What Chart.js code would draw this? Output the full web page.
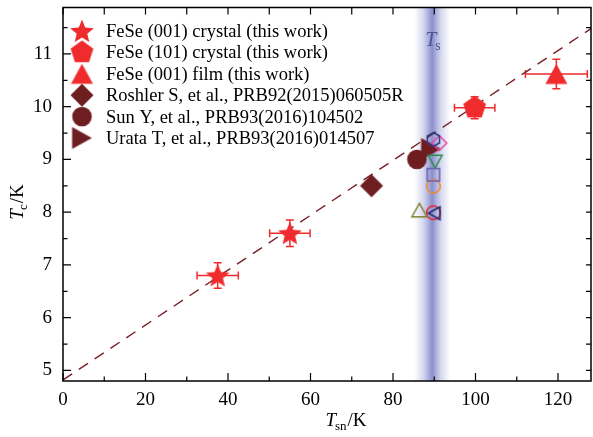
<!DOCTYPE html>
<html>
<head>
<meta charset="utf-8">
<script src="https://cdn.jsdelivr.net/npm/chart.js@4.4.0/dist/chart.umd.min.js"></script>
<style>
  html, body { margin: 0; padding: 0; background: #fff; }
</style>
</head>
<body>
<canvas id="tc-chart" width="593" height="437"></canvas>
<script>
// Dữ liệu: Tc theo Tsn
const starX = [37.5, 55.0], starY = [6.80, 7.60], starXErr = [5.0, 4.9], starYErr = [0.24, 0.25];
const pentX = [99.8], pentY = [9.98], pentXErr = [4.9], pentYErr = [0.21];
const filmX = [119.6], filmY = [10.62], filmXErr = [7.5], filmYErr = [0.28];
const roshlerX = [74.8], roshlerY = [8.50];
const sunX = [85.8], sunY = [9.00];
const urataX = [89.2], urataY = [9.20];

// các điểm rỗng quanh Ts
const openX = [89.8, 91.2, 90.2, 89.8, 89.8, 86.4, 90.0, 89.8];
const openY = [9.38, 9.31, 8.96, 8.71, 8.49, 8.04, 7.98, 7.99];
const openShape = ['hexagon', 'diamond', 'triangleDown', 'square', 'circle', 'triangleUp', 'triangleLeft', 'circle'];
const openColor = ['#2b3a8f', '#e8469e', '#2f8a4e', '#6a5fb4', '#f08a30', '#7c7c2c', '#1f2a70', '#e8242a'];
const openSize = [7, 7.5, 7, 6.2, 6.8, 7.5, 6.5, 6.8];

// đường fit nét đứt
const fitX = [0, 128], fitY = [4.82, 11.48];

const tsCenter = 89.5, tsHalf = 4.4;
const xTicks = [0, 20, 40, 60, 80, 100, 120];
const yTicks = [5, 6, 7, 8, 9, 10, 11];
const legendLabels = [
  'FeSe (001) crystal (this work)',
  'FeSe (101) crystal (this work)',
  'FeSe (001) film (this work)',
  'Roshler S, et al., PRB92(2015)060505R',
  'Sun Y, et al., PRB93(2016)104502',
  'Urata T, et al., PRB93(2016)014507'
];

const RED = '#ef2b2d', DARK = '#6e1d21', SERIF = '"Liberation Serif", "DejaVu Serif", serif';

// Vẽ marker lên canvas nhỏ
function marker(shape, r, fill, stroke, lw) {
  lw = lw || 1.5;
  const s = Math.ceil(2 * r + 2 * lw + 4);
  const c = document.createElement('canvas');
  c.width = s; c.height = s;
  const g = c.getContext('2d');
  g.translate(s / 2, s / 2);
  g.beginPath();
  const poly = (n, rot, rr) => {
    for (let i = 0; i < n; i++) {
      const a = rot + i * 2 * Math.PI / n;
      const px = rr * Math.cos(a), py = rr * Math.sin(a);
      i ? g.lineTo(px, py) : g.moveTo(px, py);
    }
    g.closePath();
  };
  const h = r * 0.9;
  switch (shape) {
    case 'star':
      for (let i = 0; i < 10; i++) {
        const a = -Math.PI / 2 + i * Math.PI / 5;
        const rr = i % 2 ? r * 0.44 : r;
        const px = rr * Math.cos(a), py = rr * Math.sin(a) + r * 0.08;
        i ? g.lineTo(px, py) : g.moveTo(px, py);
      }
      g.closePath();
      break;
    case 'pentagon': poly(5, -Math.PI / 2, r); break;
    case 'hexagon': poly(6, -Math.PI / 2, r); break;
    case 'diamond': poly(4, -Math.PI / 2, r); break;
    case 'square': g.rect(-r, -r, 2 * r, 2 * r); break;
    case 'circle': g.arc(0, 0, r, 0, 2 * Math.PI); break;
    case 'triangleUp': g.moveTo(0, -h); g.lineTo(-r, h); g.lineTo(r, h); g.closePath(); break;
    case 'triangleDown': g.moveTo(0, h); g.lineTo(-r, -h); g.lineTo(r, -h); g.closePath(); break;
    case 'triangleLeft': g.moveTo(-h, 0); g.lineTo(h, -r); g.lineTo(h, r); g.closePath(); break;
    case 'triangleRight': g.moveTo(h, 0); g.lineTo(-h, -r); g.lineTo(-h, r); g.closePath(); break;
  }
  if (fill) { g.fillStyle = fill; g.fill(); }
  if (stroke) { g.strokeStyle = stroke; g.lineWidth = lw; g.lineJoin = 'miter'; g.stroke(); }
  return c;
}

const mkStar = marker('star', 12.5, RED);
const mkPent = marker('pentagon', 12, RED);
const mkFilm = marker('triangleUp', 11, RED);
const mkRosh = marker('diamond', 11.5, DARK);
const mkSun = marker('circle', 9.8, DARK);
const mkUrata = marker('triangleRight', 11, DARK);
const legendMarkers = [mkStar, mkPent, mkFilm, mkRosh, mkSun, mkUrata];

const pts = (xs, ys) => xs.map((x, i) => ({ x: x, y: ys[i] }));

const datasets = [
  {
    type: 'line', data: pts(fitX, fitY), borderColor: '#7a1f27', borderWidth: 1.4,
    borderDash: [11, 8], pointRadius: 0, fill: false, order: 10
  },
  { data: pts(starX, starY), pointStyle: mkStar, order: 5 },
  { data: pts(pentX, pentY), pointStyle: mkPent, order: 5 },
  { data: pts(filmX, filmY), pointStyle: mkFilm, order: 5 },
  { data: pts(roshlerX, roshlerY), pointStyle: mkRosh, order: 5 },
  { data: pts(sunX, sunY), pointStyle: mkSun, order: 5 },
  { data: pts(urataX, urataY), pointStyle: mkUrata, order: 4 }
];
openX.forEach((x, i) => {
  datasets.push({
    data: [{ x: x, y: openY[i] }],
    pointStyle: marker(openShape[i], openSize[i], null, openColor[i], 1.5),
    order: 1
  });
});

// Plugin vẽ dải Ts, error bar, khung, tick, legend, nhãn trục
const decor = {
  id: 'decor',
  beforeDatasetsDraw(chart) {
    const { ctx, chartArea: a, scales: { x, y } } = chart;
    ctx.save();
    const x0 = x.getPixelForValue(tsCenter - tsHalf), x1 = x.getPixelForValue(tsCenter + tsHalf);
    const gr = ctx.createLinearGradient(x0, 0, x1, 0);
    gr.addColorStop(0, 'rgba(95,105,190,0)');
    gr.addColorStop(0.25, 'rgba(95,105,190,0.25)');
    gr.addColorStop(0.5, 'rgba(80,90,180,0.68)');
    gr.addColorStop(0.75, 'rgba(95,105,190,0.25)');
    gr.addColorStop(1, 'rgba(95,105,190,0)');
    ctx.fillStyle = gr;
    ctx.fillRect(x0, a.top, x1 - x0, a.bottom - a.top);

    // T_s
    const cx = x.getPixelForValue(tsCenter);
    ctx.fillStyle = '#4d5598';
    ctx.font = 'italic 20px ' + SERIF;
    ctx.textBaseline = 'alphabetic';
    ctx.textAlign = 'left';
    const tw = ctx.measureText('T').width;
    ctx.fillText('T', cx - 7, 46);
    ctx.font = '14px ' + SERIF;
    ctx.fillText('s', cx - 7 + tw - 1, 50);

    // error bars
    ctx.strokeStyle = RED;
    ctx.lineWidth = 1.5;
    const groups = [[starX, starY, starXErr, starYErr], [pentX, pentY, pentXErr, pentYErr], [filmX, filmY, filmXErr, filmYErr]];
    groups.forEach(([xs, ys, xe, ye]) => {
      xs.forEach((v, i) => {
        const px = x.getPixelForValue(v), py = y.getPixelForValue(ys[i]);
        const l = x.getPixelForValue(v - xe[i]), r = x.getPixelForValue(v + xe[i]);
        const t = y.getPixelForValue(ys[i] + ye[i]), b = y.getPixelForValue(ys[i] - ye[i]);
        ctx.beginPath();
        ctx.moveTo(l, py); ctx.lineTo(r, py);
        ctx.moveTo(px, t); ctx.lineTo(px, b);
        ctx.moveTo(l, py - 4); ctx.lineTo(l, py + 4);
        ctx.moveTo(r, py - 4); ctx.lineTo(r, py + 4);
        ctx.moveTo(px - 4, t); ctx.lineTo(px + 4, t);
        ctx.moveTo(px - 4, b); ctx.lineTo(px + 4, b);
        ctx.stroke();
      });
    });
    ctx.restore();
  },
  afterDraw(chart) {
    const { ctx, chartArea: a, scales: { x, y } } = chart;
    ctx.save();
    ctx.strokeStyle = '#000';
    ctx.lineWidth = 1.5;
    ctx.strokeRect(a.left, a.top, a.right - a.left, a.bottom - a.top);
    ctx.lineWidth = 1.2;
    ctx.beginPath();
    for (let v = 0; v <= 128; v += 10) {
      const px = x.getPixelForValue(v);
      const len = v % 20 === 0 ? 8 : 4.5;
      ctx.moveTo(px, a.bottom); ctx.lineTo(px, a.bottom - len);
      ctx.moveTo(px, a.top); ctx.lineTo(px, a.top + 7);
    }
    for (let v = 5; v <= 11.5; v += 0.5) {
      const py = y.getPixelForValue(v);
      const len = v % 1 === 0 ? 8 : 4.5;
      ctx.moveTo(a.left, py); ctx.lineTo(a.left + len, py);
      ctx.moveTo(a.right, py); ctx.lineTo(a.right - 5, py);
    }
    ctx.stroke();

    // legend
    ctx.fillStyle = '#000';
    ctx.font = '18.5px ' + SERIF;
    ctx.textAlign = 'left';
    ctx.textBaseline = 'alphabetic';
    legendLabels.forEach((lab, i) => {
      const ry = 31 + i * 21.4;
      const m = legendMarkers[i];
      ctx.drawImage(m, 82 - m.width / 2, ry - m.height / 2);
      ctx.fillText(lab, 106, ry + 6);
    });

    // nhãn trục
    const drawLabel = (sub, cx, cy) => {
      ctx.font = 'italic 19px ' + SERIF;
      const w1 = ctx.measureText('T').width;
      ctx.font = '13px ' + SERIF;
      const w2 = ctx.measureText(sub).width;
      ctx.font = '19px ' + SERIF;
      const w3 = ctx.measureText('/K').width;
      let sx = cx - (w1 + w2 + w3) / 2;
      ctx.font = 'italic 19px ' + SERIF;
      ctx.fillText('T', sx, cy);
      sx += w1 - 1;
      ctx.font = '13px ' + SERIF;
      ctx.fillText(sub, sx, cy + 4);
      sx += w2 + 1;
      ctx.font = '19px ' + SERIF;
      ctx.fillText('/K', sx, cy);
    };
    drawLabel('sn', 346, 426);
    ctx.translate(23, 202);
    ctx.rotate(-Math.PI / 2);
    drawLabel('c', 0, 0);
    ctx.restore();
  }
};

new Chart(document.getElementById('tc-chart'), {
  type: 'scatter',
  data: { datasets: datasets },
  options: {
    responsive: false,
    devicePixelRatio: 1,
    animation: false,
    layout: { autoPadding: false, padding: { top: 7.5, right: 2, left: 0, bottom: 0 } },
    plugins: { legend: { display: false }, tooltip: { enabled: false } },
    scales: {
      x: {
        type: 'linear', min: 0, max: 128,
        afterFit: s => { s.height = 56; s.paddingLeft = 0; s.paddingRight = 0; },
        afterBuildTicks: s => { s.ticks = xTicks.map(v => ({ value: v })); },
        grid: { display: false, drawTicks: false },
        border: { display: false },
        ticks: { color: '#000', font: { family: SERIF, size: 19 }, padding: 8, maxRotation: 0, autoSkip: false }
      },
      y: {
        type: 'linear', min: 4.8, max: 11.88,
        afterFit: s => { s.width = 63; s.paddingTop = 0; s.paddingBottom = 0; },
        afterBuildTicks: s => { s.ticks = yTicks.map(v => ({ value: v })); },
        grid: { display: false, drawTicks: false },
        border: { display: false },
        ticks: { color: '#000', font: { family: SERIF, size: 19 }, padding: 11, autoSkip: false }
      }
    }
  },
  plugins: [decor]
});
</script>
</body>
</html>
